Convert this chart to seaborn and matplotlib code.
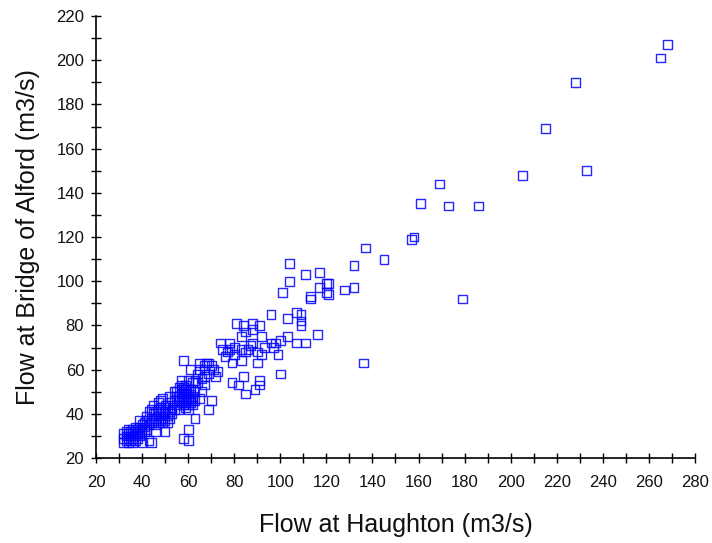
import matplotlib
matplotlib.use("Agg")
import matplotlib.pyplot as plt
import seaborn as sns
import pandas as pd
from matplotlib.ticker import MultipleLocator

haughton = [
    # low cluster
    32, 32, 32, 33, 33, 33, 34, 34, 34, 34, 35, 35, 35, 36, 36, 36, 36, 37, 37, 37,
    37, 38, 38, 38, 39, 39, 39, 40, 40, 40, 41, 41, 41, 42, 42, 43, 44, 40, 39, 43,
    # middle cluster
    42, 43, 44, 44, 44, 45, 45, 45, 46, 46, 46, 47, 47, 47, 47, 48, 48, 48, 49, 49,
    49, 49, 50, 50, 50, 50, 51, 51, 51, 52, 52, 52, 52, 53, 53, 54, 54, 54, 55, 55,
    56, 56, 56, 48, 46,
    # upper cluster
    55, 56, 57, 57, 57, 57, 57, 57, 58, 58, 58, 58, 58, 58, 59, 59, 59, 59, 59, 59,
    60, 60, 60, 60, 60, 60, 61, 61, 61, 61, 61, 62, 62, 62, 62, 63, 63, 63, 64, 65,
    66, 67, 60, 58, 60,
    # 63-93
    63, 64, 65, 65, 66, 67, 67, 67, 68, 69, 69, 70, 70, 69, 71, 72, 73, 74, 75, 76,
    77, 78, 78, 79, 79, 80, 80, 81, 82, 83, 83, 83, 84, 84, 85, 85, 85, 86, 87, 88,
    88, 88, 89, 90, 90, 91, 91, 92, 92, 93, 91,
    # 95+
    96, 96, 97, 98, 99, 100, 100, 101, 103, 103, 104, 104, 107, 107, 109, 109, 109, 111,
    111, 113, 113, 116, 117, 117, 120, 120, 121, 121, 128, 132, 132, 136, 137, 145, 157,
    158, 161, 169, 173, 179, 186, 205, 215, 228, 233, 265, 268,
]

bridge_of_alford = [
    # low cluster
    27, 29, 31, 28, 30, 32, 27, 29, 31, 33, 28, 30, 32, 27, 29, 31, 33, 28, 30, 32,
    34, 29, 31, 33, 30, 32, 34, 31, 33, 35, 32, 34, 36, 33, 37, 28, 27, 27, 37, 35,
    # middle cluster
    39, 41, 36, 38, 42, 37, 40, 44, 35, 38, 41, 36, 39, 42, 45, 37, 40, 43, 36, 38,
    41, 47, 32, 37, 40, 44, 36, 39, 42, 38, 41, 45, 48, 40, 43, 42, 46, 50, 44, 48,
    42, 46, 52, 46, 32,
    # upper cluster
    50, 48, 45, 47, 49, 51, 53, 55, 44, 46, 48, 50, 52, 64, 43, 45, 47, 49, 51, 53,
    42, 44, 46, 48, 50, 55, 45, 47, 49, 51, 60, 44, 46, 48, 54, 46, 50, 38, 54, 47,
    50, 57, 33, 29, 28,
    # 63-93
    55, 58, 63, 60, 56, 62, 53, 60, 63, 63, 58, 62, 46, 42, 60, 57, 59, 72, 69, 66,
    68, 72, 69, 63, 54, 67, 70, 81, 53, 75, 69, 64, 80, 57, 49, 68, 77, 69, 71, 81,
    78, 72, 51, 63, 68, 53, 80, 75, 67, 70, 55,
    # 95+
    85, 72, 70, 72, 67, 58, 73, 95, 83, 75, 108, 100, 72, 86, 85, 82, 80, 72,
    103, 93, 92, 76, 104, 97, 99, 95, 94, 99, 96, 97, 107, 63, 115, 110, 119,
    120, 135, 144, 134, 92, 134, 148, 169, 190, 150, 201, 207,
]

x_ticks = list(range(20, 281, 20))
y_ticks = list(range(20, 221, 20))

df = pd.DataFrame({"Haughton": haughton, "Alford": bridge_of_alford})

sns.set_style("white")
plt.rcParams["font.family"] = ["Liberation Sans", "DejaVu Sans"]

fig = plt.figure(figsize=(7.12, 5.43), dpi=100)
ax = fig.add_axes([0.1348, 0.1565, 0.8413, 0.8140])

sns.scatterplot(data=df, x="Haughton", y="Alford", ax=ax, marker="s", s=40,
                facecolor="none", edgecolor="#0000ff", linewidth=1.0, alpha=0.85)

ax.set_xlim(20, 280)
ax.set_ylim(20, 220)
ax.set_xticks(x_ticks)
ax.set_yticks(y_ticks)
ax.xaxis.set_minor_locator(MultipleLocator(10))
ax.yaxis.set_minor_locator(MultipleLocator(10))
ax.tick_params(axis="both", which="both", direction="inout", length=7, width=1,
               color="black", labelsize=12, labelcolor="#111111",
               bottom=True, left=True, top=False, right=False)
ax.tick_params(axis="x", which="major", pad=9)
ax.tick_params(axis="y", which="major", pad=5)
for side in ["top", "right"]:
    ax.spines[side].set_visible(False)
for side in ["left", "bottom"]:
    ax.spines[side].set_color("black")
    ax.spines[side].set_linewidth(1.2)

ax.set_xlabel("Flow at Haughton (m3/s)", fontsize=18, color="#111111", labelpad=16)
ax.set_ylabel("Flow at Bridge of Alford (m3/s)", fontsize=18, color="#111111", labelpad=12)

fig.savefig("out.png", dpi=100)
